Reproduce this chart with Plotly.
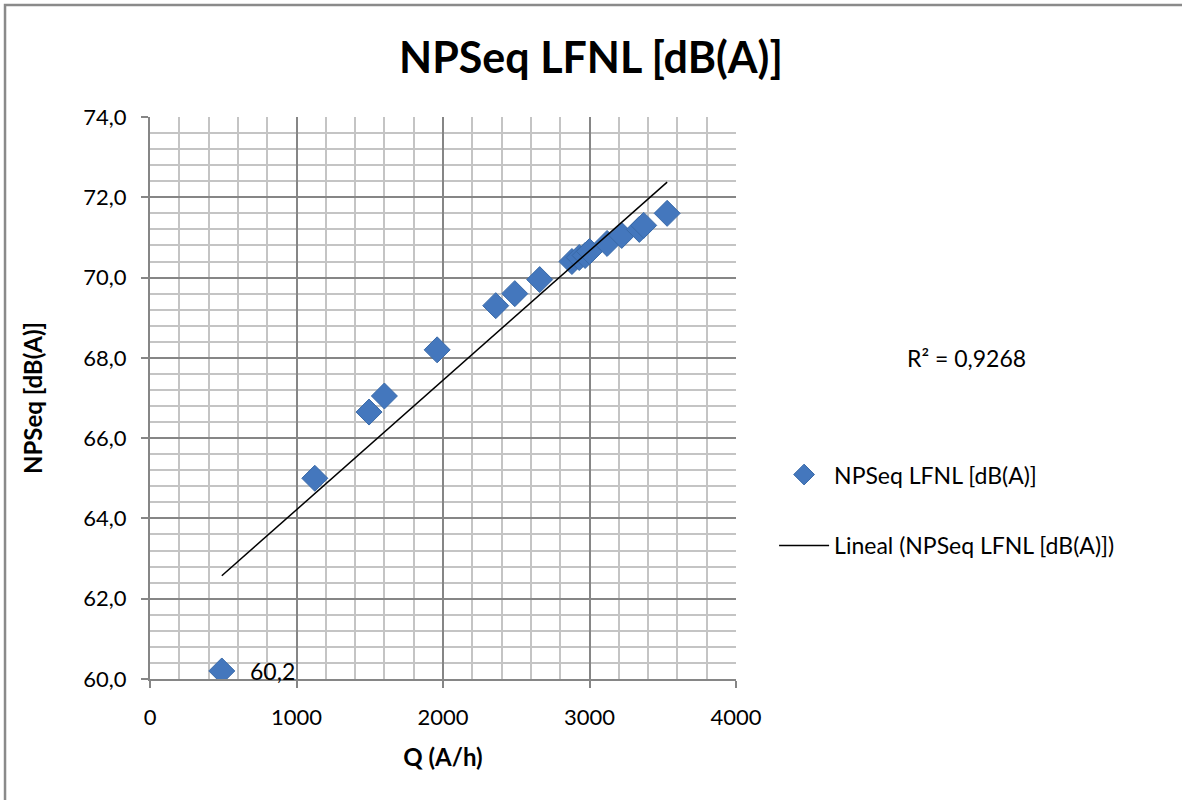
import numpy as np
import plotly.graph_objects as go

# Measured flow (A/h) and equivalent noise level NPSeq LFNL [dB(A)]
q_flow = [490, 1125, 1495, 1600, 1960, 2360, 2490, 2660, 2880, 2930,
          2970, 3000, 3120, 3220, 3340, 3370, 3530]
npseq = [60.2, 65.0, 66.65, 67.05, 68.2, 69.3, 69.6, 69.95, 70.4, 70.5,
         70.55, 70.65, 70.85, 71.05, 71.2, 71.3, 71.6]

series_name = "NPSeq LFNL [dB(A)]"
trend_name = "Lineal (NPSeq LFNL [dB(A)])"
r2_text = "R² = 0,9268"

x_ticks = [0, 1000, 2000, 3000, 4000]
x_tick_labels = ["0", "1000", "2000", "3000", "4000"]
y_ticks = [60, 62, 64, 66, 68, 70, 72, 74]
y_tick_labels = ["60,0", "62,0", "64,0", "66,0", "68,0", "70,0", "72,0", "74,0"]

FONT = "Lato"
BLUE = "#4477bd"

# least-squares linear trend over the data range
slope, intercept = np.polyfit(q_flow, npseq, 1)
trend_x = [min(q_flow), max(q_flow)]
trend_y = [slope * v + intercept for v in trend_x]

fig = go.Figure()
fig.add_trace(go.Scatter(
    x=q_flow, y=npseq, mode="markers", name=series_name,
    legendgroup="a",
    marker=dict(symbol="diamond", size=20, color=BLUE,
                line=dict(color="#3a6aa8", width=1)),
))
fig.add_trace(go.Scatter(
    x=trend_x, y=trend_y, mode="lines", name=trend_name,
    legendgroup="b",
    line=dict(color="black", width=1.5),
))

# data label on the lowest reading
fig.add_annotation(x=q_flow[0], y=npseq[0],
                   text=f"{npseq[0]:.1f}".replace(".", ","),
                   showarrow=False, xanchor="left", xshift=26,
                   font=dict(family=FONT, size=23, color="black"))
# coefficient of determination of the trend
fig.add_annotation(xref="paper", yref="paper", x=1.394, y=0.571,
                   text=r2_text, showarrow=False, xanchor="center",
                   font=dict(family=FONT, size=23, color="black"))

# outer chart border
fig.add_shape(type="rect", xref="paper", yref="paper",
              x0=-0.2474, y0=-0.6, x1=2.0, y1=1.1993,
              line=dict(color="#8a8a8a", width=2.5), layer="below")

axis_common = dict(
    showline=True, linecolor="#868686", linewidth=2,
    showgrid=True, gridcolor="#868686", gridwidth=2,
    ticks="outside", ticklen=7, tickwidth=2, tickcolor="#868686",
    zeroline=False, mirror=False,
    tickfont=dict(family=FONT, size=22, color="black"),
)

fig.update_xaxes(
    range=[0, 4000], tickvals=x_ticks, ticktext=x_tick_labels,
    minor=dict(dtick=200, showgrid=True, gridcolor="#c4c4c4", gridwidth=2),
    title=dict(text="<b>Q (A/h)</b>", font=dict(family=FONT, size=24, color="black"),
               standoff=20),
    ticklabelstandoff=11,
    **axis_common,
)
fig.update_yaxes(
    range=[60, 74], tickvals=y_ticks, ticktext=y_tick_labels,
    minor=dict(dtick=0.4, showgrid=True, gridcolor="#c4c4c4", gridwidth=2),
    title=dict(text="<b>NPSeq [dB(A)]</b>", font=dict(family=FONT, size=24, color="black"),
               standoff=34),
    ticklabelstandoff=10,
    **axis_common,
)

fig.update_layout(
    width=1182, height=800,
    margin=dict(l=150, r=446, t=117, b=121),
    paper_bgcolor="white", plot_bgcolor="white",
    title=dict(text="<b>NPSeq LFNL [dB(A)]</b>", x=0.5, xanchor="center",
               y=0.928, yanchor="middle",
               font=dict(family=FONT, size=43, color="black")),
    showlegend=True,
    legend=dict(x=1.065, y=0.402, xanchor="left", yanchor="top",
                traceorder="grouped", tracegroupgap=38,
                font=dict(family=FONT, size=23, color="black"),
                bgcolor="rgba(0,0,0,0)", itemwidth=50),
    font=dict(family=FONT),
)

fig.write_html("out.html")
